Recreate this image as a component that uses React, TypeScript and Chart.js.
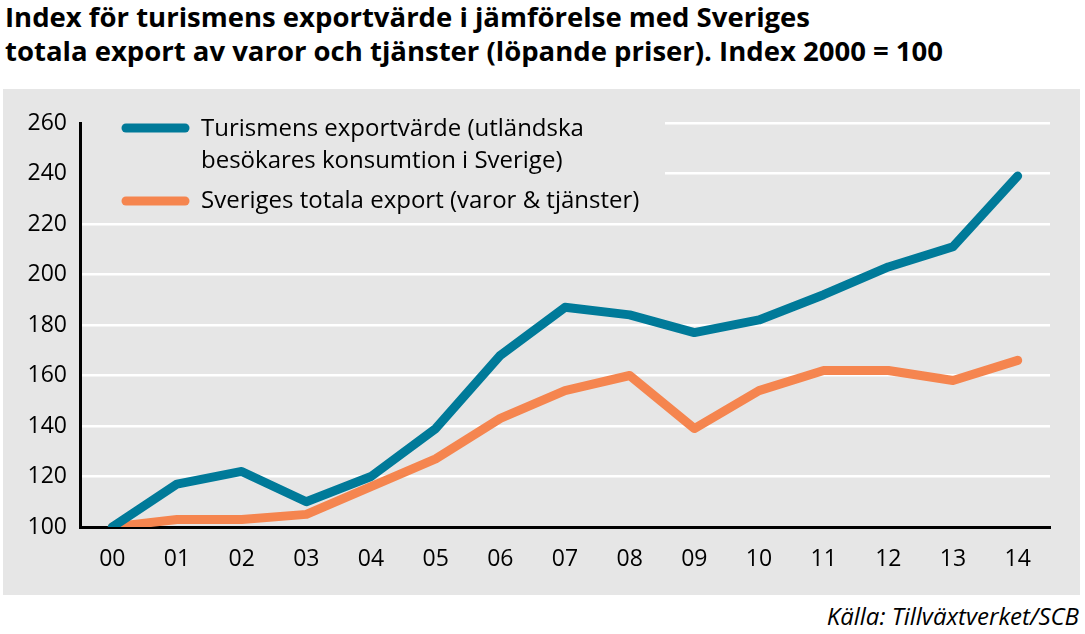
import React, { useEffect, useRef } from "react";
import { Chart, registerables } from "chart.js";

Chart.register(...registerables);

const years = ["00", "01", "02", "03", "04", "05", "06", "07", "08", "09", "10", "11", "12", "13", "14"];
const tourismExport = [100, 117, 122, 110, 120, 139, 168, 187, 184, 177, 182, 192, 203, 211, 239];
const totalExport = [100, 103, 103, 105, 116, 127, 143, 154, 160, 139, 154, 162, 162, 158, 166];

const seriesNames = ["Turismens exportvärde (utländska", "besökares konsumtion i Sverige)"];
const seriesName2 = "Sveriges totala export (varor & tjänster)";
const titleLines = [
  "Index för turismens exportvärde i jämförelse med Sveriges",
  "totala export av varor och tjänster (löpande priser). Index 2000 = 100",
];
const sourceText = "Källa: Tillväxtverket/SCB";

const BLUE = "#007a99";
const ORANGE = "#f5854f";
const PANEL = "#e6e6e6";
const FONT = "'Open Sans', 'Noto Sans', sans-serif";

const legendPlugin = {
  id: "inlineLegend",
  beforeDatasetsDraw(chart: any) {
    const ctx = chart.ctx as CanvasRenderingContext2D;
    ctx.save();
    ctx.fillStyle = PANEL;
    ctx.fillRect(79, 27, 583, 94);
    ctx.lineCap = "round";
    ctx.lineWidth = 9;
    ctx.strokeStyle = BLUE;
    ctx.beginPath();
    ctx.moveTo(123, 39);
    ctx.lineTo(182, 39);
    ctx.stroke();
    ctx.strokeStyle = ORANGE;
    ctx.beginPath();
    ctx.moveTo(123, 112);
    ctx.lineTo(182, 112);
    ctx.stroke();
    ctx.fillStyle = "#000";
    ctx.font = `24px ${FONT}`;
    ctx.textBaseline = "middle";
    ctx.textAlign = "left";
    ctx.fillText(seriesNames[0], 198, 40);
    ctx.fillText(seriesNames[1], 198, 72);
    ctx.fillText(seriesName2, 198, 112);
    ctx.restore();
  },
};

export default function App() {
  const ref = useRef<HTMLCanvasElement | null>(null);

  useEffect(() => {
    if (!ref.current) return;
    const chart = new Chart(ref.current, {
      type: "line",
      data: {
        labels: years,
        datasets: [
          {
            label: seriesNames.join(" "),
            data: tourismExport,
            borderColor: BLUE,
            backgroundColor: BLUE,
            borderWidth: 9,
            pointRadius: 0,
            tension: 0,
            borderCapStyle: "round",
            borderJoinStyle: "round",
          },
          {
            label: seriesName2,
            data: totalExport,
            borderColor: ORANGE,
            backgroundColor: ORANGE,
            borderWidth: 9,
            pointRadius: 0,
            tension: 0,
            borderCapStyle: "round",
            borderJoinStyle: "round",
          },
        ],
      },
      options: {
        animation: false,
        responsive: false,
        maintainAspectRatio: false,
        layout: { padding: { top: 34, right: 30, left: 0, bottom: 0 } },
        plugins: {
          legend: { display: false },
          tooltip: { enabled: false },
          title: { display: false },
        },
        scales: {
          x: {
            type: "category",
            offset: true,
            grid: { display: false, drawTicks: false },
            border: { display: true, color: "#000", width: 3 },
            ticks: {
              color: "#000",
              font: { family: FONT, size: 23 },
              padding: 19,
              maxRotation: 0,
              autoSkip: false,
            },
            afterFit: (scale: any) => {
              scale.height = 68;
            },
          },
          y: {
            min: 100,
            max: 260,
            grid: {
              color: (c: any) => (c.tick && c.tick.value === 100 ? "rgba(0,0,0,0)" : "#ffffff"),
              lineWidth: 2.5,
              drawTicks: false,
            },
            border: { display: true, color: "#000", width: 3 },
            ticks: {
              stepSize: 20,
              color: "#000",
              font: { family: FONT, size: 23 },
              padding: 13,
            },
            afterFit: (scale: any) => {
              scale.width = 77;
            },
          },
        },
      },
      plugins: [legendPlugin],
    });
    return () => chart.destroy();
  }, []);

  return (
    <div
      style={{
        position: "absolute",
        left: 0,
        top: 0,
        width: 1085,
        height: 634,
        background: "#fff",
        fontFamily: FONT,
        color: "#000",
      }}
    >
      <div
        style={{
          position: "absolute",
          left: 5,
          top: 0,
          fontWeight: 700,
          fontSize: 27.5,
          lineHeight: "34px",
          whiteSpace: "nowrap",
        }}
      >
        <div>{titleLines[0]}</div>
        <div>{titleLines[1]}</div>
      </div>
      <div
        style={{
          position: "absolute",
          left: 3,
          top: 89,
          width: 1077,
          height: 506,
          background: PANEL,
        }}
      >
        <canvas ref={ref} width={1077} height={506} style={{ display: "block" }} />
      </div>
      <div
        style={{
          position: "absolute",
          right: 6,
          top: 600,
          fontStyle: "italic",
          fontSize: 24,
          lineHeight: "32px",
          whiteSpace: "nowrap",
        }}
      >
        {sourceText}
      </div>
    </div>
  );
}
